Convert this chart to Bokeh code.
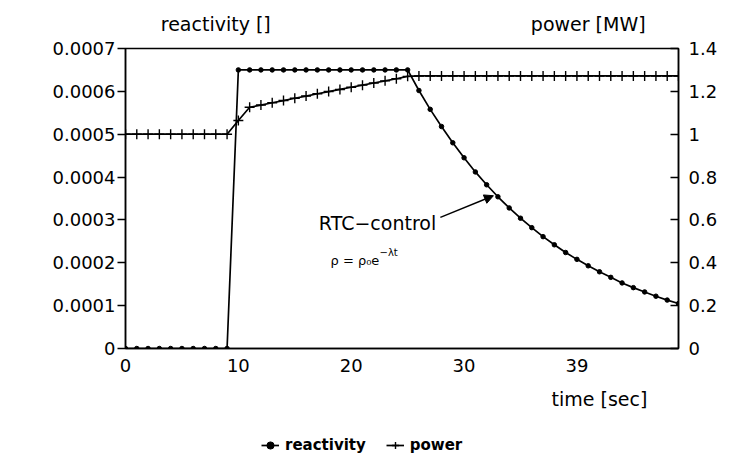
from bokeh.plotting import figure
from bokeh.layouts import column
from bokeh.models import (Range1d, LinearAxis, FixedTicker, Label, Arrow, NormalHead,
                          Legend, LegendItem, ColumnDataSource)
from bokeh.embed import file_html
from bokeh.resources import INLINE

# ---------------- data ----------------
time = [0, 1, 2, 3, 4, 5, 6, 7, 8, 9,
        10, 11, 12, 13, 14, 15, 16, 17, 18, 19,
        20, 21, 22, 23, 24, 25, 26, 27, 28, 29,
        30, 31, 32, 33, 34, 35, 36, 37, 38, 39,
        40, 41, 42, 43, 44, 45, 46, 47, 48, 49]

reactivity = [0, 0, 0, 0, 0, 0, 0, 0, 0, 0,
              0.00065, 0.00065, 0.00065, 0.00065, 0.00065, 0.00065, 0.00065, 0.00065,
              0.00065, 0.00065, 0.00065, 0.00065, 0.00065, 0.00065, 0.00065, 0.00065,
              0.000602, 0.000558, 0.000518, 0.000480, 0.000445, 0.000412, 0.000382,
              0.000354, 0.000328, 0.000304, 0.000282, 0.000261, 0.000242, 0.000224,
              0.000208, 0.000193, 0.000179, 0.000166, 0.000153, 0.000142, 0.000132,
              0.000122, 0.000113, 0.000105]

power = [1.0, 1.0, 1.0, 1.0, 1.0, 1.0, 1.0, 1.0, 1.0, 1.0,
         1.064, 1.126, 1.136, 1.147, 1.157, 1.168, 1.178, 1.189, 1.199, 1.209,
         1.219, 1.229, 1.239, 1.249, 1.259, 1.270, 1.272, 1.272, 1.272, 1.272,
         1.272, 1.272, 1.272, 1.272, 1.272, 1.272, 1.272, 1.272, 1.272, 1.272,
         1.272, 1.272, 1.272, 1.272, 1.272, 1.272, 1.272, 1.272, 1.272, 1.272]

x_ticks = [0, 10, 20, 30, 40]
x_tick_labels = ["0", "10", "20", "30", "39"]
react_ticks = [0, 0.0001, 0.0002, 0.0003, 0.0004, 0.0005, 0.0006, 0.0007]
react_tick_labels = ["0", "0.0001", "0.0002", "0.0003", "0.0004", "0.0005", "0.0006", "0.0007"]
power_ticks = [0, 0.2, 0.4, 0.6, 0.8, 1.0, 1.2, 1.4]
power_tick_labels = ["0", "0.2", "0.4", "0.6", "0.8", "1", "1.2", "1.4"]

series_names = ["reactivity", "power"]

# axis titles (text) and where along the time axis they sit (layout)
left_title = "reactivity []"
right_title = "power [MW]"
x_title = "time [sec]"
left_title_pos = 8
right_title_pos = 41
x_title_pos = 42

# annotation anchor (arrow from text to curve), data units
arrow_start = (27.9, 0.000306)
arrow_end = (32.6, 0.0003565)

FONT = "DejaVu Sans"
TICK_SIZE = "18px"

source = ColumnDataSource(dict(time=time, reactivity=reactivity, power=power))

W, H, HL = 736, 418, 37
p = figure(width=W, height=H, output_backend="svg", toolbar_location=None,
           x_range=Range1d(0, 49), y_range=Range1d(0, 0.0007),
           min_border_left=125, min_border_right=W - 678, min_border_top=48,
           min_border_bottom=H - 348)
p.extra_y_ranges = {"power": Range1d(0, 1.4)}

p.grid.visible = False
p.outline_line_color = "black"
p.outline_line_width = 1.5
p.outline_line_alpha = 1.0
p.background_fill_color = "white"
p.border_fill_color = "white"


def style_axis(ax, tick_in=0, tick_out=0, standoff=8):
    ax.major_tick_in = tick_in
    ax.major_tick_out = tick_out
    ax.minor_tick_in = 0
    ax.minor_tick_out = 0
    ax.axis_line_width = 1.5
    ax.axis_line_color = "black"
    ax.major_tick_line_width = 1.5
    ax.major_label_standoff = standoff
    ax.major_label_text_font = FONT
    ax.major_label_text_font_size = TICK_SIZE
    ax.major_label_text_color = "black"


# x axis
xa = p.xaxis[0]
xa.ticker = FixedTicker(ticks=x_ticks)
xa.major_label_overrides = dict(zip(x_ticks, x_tick_labels))
style_axis(xa, standoff=10)

# left axis (reactivity)
ya = p.yaxis[0]
ya.ticker = FixedTicker(ticks=react_ticks)
ya.major_label_overrides = dict(zip(react_ticks, react_tick_labels))
style_axis(ya, tick_out=8, standoff=2)

# right axis (power)
ra = LinearAxis(y_range_name="power", ticker=FixedTicker(ticks=power_ticks),
                major_label_overrides=dict(zip(power_ticks, power_tick_labels)))
style_axis(ra, tick_in=8, standoff=10)
p.add_layout(ra, "right")

# top titles: an unlined axis above the frame whose two labels are the titles
ta = LinearAxis(ticker=FixedTicker(ticks=[left_title_pos, right_title_pos]),
                major_label_overrides={left_title_pos: left_title, right_title_pos: right_title})
style_axis(ta, standoff=14)
ta.axis_line_alpha = 0
ta.major_label_text_font_size = "19px"
p.add_layout(ta, "above")

# x title: an unlined axis below the tick labels
ba = LinearAxis(ticker=FixedTicker(ticks=[x_title_pos]),
                major_label_overrides={x_title_pos: x_title})
style_axis(ba, standoff=13)
ba.axis_line_alpha = 0
ba.major_label_text_font_size = "19px"
p.add_layout(ba, "below")

# series
LINE_W = 1.7
r_style = dict(line_color="black", line_width=LINE_W)
dot_style = dict(marker="circle", size=4.5, fill_color="black", line_color="black")
cross_style = dict(marker="cross", size=10, line_color="black", line_width=1.4)

p.line("time", "reactivity", source=source, **r_style)
p.scatter("time", "reactivity", source=source, **dot_style)
p.line("time", "power", source=source, y_range_name="power", **r_style)
p.scatter("time", "power", source=source, y_range_name="power", **cross_style)

# annotation inside the frame
p.add_layout(Label(x=252, y=126, x_units="screen", y_units="screen", text="RTC\u2212control",
                   text_font=FONT, text_font_size="19px", text_align="center",
                   text_baseline="middle", text_color="black"))
p.add_layout(Label(x=205, y=88, x_units="screen", y_units="screen", text="\u03c1 = \u03c1\u2080e",
                   text_font=FONT, text_font_size="13px", text_align="left",
                   text_baseline="middle", text_color="black"))
p.add_layout(Label(x=254, y=96, x_units="screen", y_units="screen", text="\u2212\u03bbt",
                   text_font=FONT, text_font_size="10px", text_align="left",
                   text_baseline="middle", text_color="black"))
p.add_layout(Arrow(x_start=arrow_start[0], y_start=arrow_start[1],
                   x_end=arrow_end[0], y_end=arrow_end[1],
                   line_color="black", line_width=1.5,
                   end=NormalHead(size=9, fill_color="black", line_color="black")))

# ---- legend strip under the chart (same series styles, data kept out of view) ----
q = figure(width=W, height=HL, output_backend="svg", toolbar_location=None,
           x_range=Range1d(0, 49), y_range=Range1d(10, 11),
           x_axis_location=None, y_axis_location=None,
           min_border_left=0, min_border_right=0, min_border_top=0, min_border_bottom=0)
q.grid.visible = False
q.outline_line_alpha = 0
q.background_fill_color = "white"
q.border_fill_color = "white"

lr_line = q.line("time", "reactivity", source=source, **r_style)
lr_dots = q.scatter("time", "reactivity", source=source, **dot_style)
lp_line = q.line("time", "power", source=source, **r_style)
lp_cross = q.scatter("time", "power", source=source, **cross_style)

legend = Legend(items=[LegendItem(label=series_names[0], renderers=[lr_line, lr_dots]),
                       LegendItem(label=series_names[1], renderers=[lp_line, lp_cross])],
                orientation="horizontal", location=(136, 1),
                background_fill_alpha=0, border_line_alpha=0,
                padding=0, margin=0, spacing=20, glyph_width=18, glyph_height=18,
                label_height=18, label_standoff=6,
                label_text_font=FONT, label_text_font_size="15px",
                label_text_font_style="bold", label_text_color="black",
                label_text_baseline="middle")
q.add_layout(legend, "center")

layout = column(p, q, spacing=0)
open("out.html", "w").write(file_html(layout, INLINE))
